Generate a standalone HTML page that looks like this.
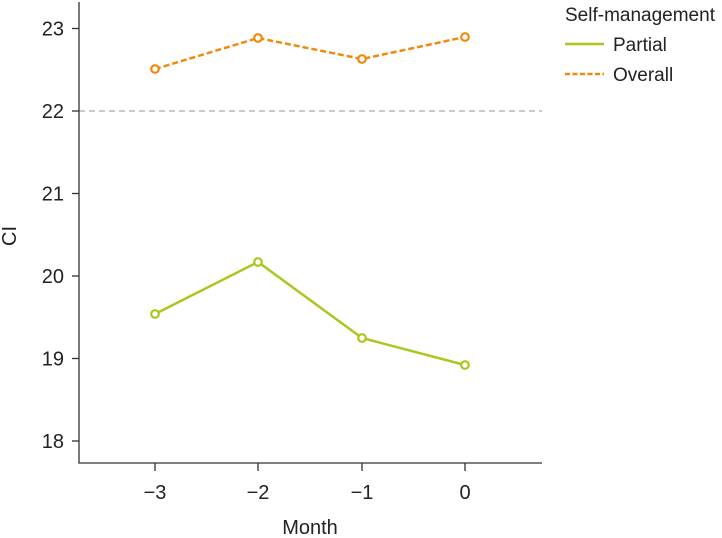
<!DOCTYPE html>
<html><head><meta charset="utf-8"><style>
html,body{margin:0;padding:0;background:#fff;}
svg{display:block;font-family:"Liberation Sans",sans-serif;}
</style></head><body>
<svg width="722" height="538" viewBox="0 0 722 538" xmlns="http://www.w3.org/2000/svg">
<line x1="79" y1="111" x2="542" y2="111" stroke="#aaa" stroke-width="1.2" stroke-dasharray="6,4"/>
<g stroke="#333" stroke-width="1.3" fill="none">
<line x1="79" y1="2" x2="79" y2="463.5"/>
<line x1="78.4" y1="463" x2="542" y2="463"/>
<line x1="72" y1="28.5" x2="79" y2="28.5"/>
<line x1="72" y1="111" x2="79" y2="111"/>
<line x1="72" y1="193.5" x2="79" y2="193.5"/>
<line x1="72" y1="276" x2="79" y2="276"/>
<line x1="72" y1="358.5" x2="79" y2="358.5"/>
<line x1="72" y1="441" x2="79" y2="441"/>
<line x1="155" y1="463" x2="155" y2="471"/>
<line x1="258" y1="463" x2="258" y2="471"/>
<line x1="362" y1="463" x2="362" y2="471"/>
<line x1="465" y1="463" x2="465" y2="471"/>
</g>
<g font-size="20" fill="#222" text-anchor="end">
<text x="64" y="35.5">23</text>
<text x="64" y="118">22</text>
<text x="64" y="200.5">21</text>
<text x="64" y="283">20</text>
<text x="64" y="365.5">19</text>
<text x="64" y="448">18</text>
</g>
<g font-size="20" fill="#222" text-anchor="middle">
<text x="155" y="499">−3</text>
<text x="258" y="499">−2</text>
<text x="362" y="499">−1</text>
<text x="465" y="499">0</text>
<text x="310" y="534">Month</text>
</g>
<text transform="translate(16,236) rotate(-90)" font-size="20" fill="#222" text-anchor="middle">CI</text>
<polyline points="155,314 258,262 362,338 465,365" fill="none" stroke="#a6c91e" stroke-width="2.5"/>
<polyline points="155,69 258,38 362,59 465,37" fill="none" stroke="#f08a0e" stroke-width="2.5" stroke-dasharray="6,3"/>
<g fill="#fff" stroke="#a6c91e" stroke-width="2.2">
<circle cx="155" cy="314" r="3.8"/><circle cx="258" cy="262" r="3.8"/><circle cx="362" cy="338" r="3.8"/><circle cx="465" cy="365" r="3.8"/>
</g>
<g fill="#fff" stroke="#f08a0e" stroke-width="2.2">
<circle cx="155" cy="69" r="3.8"/><circle cx="258" cy="38" r="3.8"/><circle cx="362" cy="59" r="3.8"/><circle cx="465" cy="37" r="3.8"/>
</g>
<text x="565" y="21" font-size="19" fill="#222">Self-management</text>
<line x1="565" y1="44" x2="604" y2="44" stroke="#a6c91e" stroke-width="2.5"/>
<text x="613" y="51" font-size="19" fill="#222">Partial</text>
<line x1="565" y1="74" x2="604" y2="74" stroke="#f08a0e" stroke-width="2.5" stroke-dasharray="5,2.5"/>
<text x="613" y="81" font-size="19" fill="#222">Overall</text>
</svg>
</body></html>
